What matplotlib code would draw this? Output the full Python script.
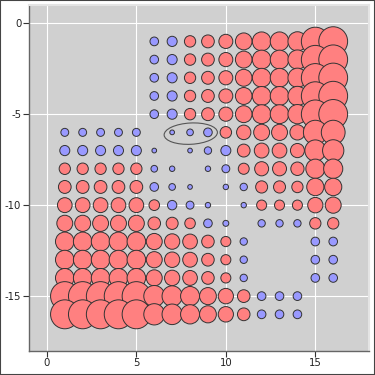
import numpy as np
import matplotlib
matplotlib.use("Agg")
import matplotlib.pyplot as plt
from matplotlib.patches import Circle, Ellipse, Rectangle

plt.rcParams["axes.unicode_minus"] = False

# Signed circle diameters (in grid-cell units); positive = red, negative = blue
# rows correspond to y = -1 ... -16, columns to x = 1 ... 16
top_row = [0, 0, 0, 0, 0, -0.48, -0.56, 0.63, 0.71, 0.78, 0.93, 1.04, 1.04, 1.06, 1.56, 1.61]
row6 = [-0.44, -0.44, -0.44, -0.44, -0.44, 0, -0.26, -0.37, -0.48, 0.64, 0.80, 0.89, 0.89, 0.84, 1.33, 1.33]
row7 = [-0.56, -0.56, -0.56, -0.56, -0.56, -0.26, 0, -0.26, -0.41, -0.56, 0.71, 0.82, 0.82, 0.78, 1.17, 1.19]
row8 = [0.63, 0.63, 0.63, 0.63, 0.63, -0.37, -0.30, 0, -0.30, -0.44, 0.61, 0.78, 0.78, 0.74, 1.06, 1.07]
row9 = [0.71, 0.71, 0.71, 0.71, 0.71, -0.48, -0.37, -0.26, 0, -0.30, -0.41, 0.67, 0.67, 0.63, 0.96, 0.96]
row10 = [0.82, 0.82, 0.82, 0.82, 0.82, 0.59, -0.52, -0.44, -0.30, 0, -0.30, 0.56, 0.56, 0.56, 0.85, 0.89]
row11 = [0.89, 0.89, 0.89, 0.89, 0.89, 0.70, 0.67, 0.59, -0.48, -0.33, 0, -0.41, -0.41, -0.41, 0.63, 0.63]
row12 = [1.04, 1.04, 1.04, 1.04, 1.04, 0.89, 0.85, 0.82, 0.70, 0.56, -0.41, 0, 0, 0, -0.48, -0.48]
row15 = [1.59, 1.59, 1.59, 1.59, 1.59, 1.17, 1.13, 1.06, 0.94, 0.85, 0.70, -0.48, -0.48, -0.48, 0, 0]

rows = [top_row, top_row, top_row, top_row, top_row,
        row6, row7, row8, row9, row10, row11,
        row12, row12, row12, row15, row15]

x_vals = list(range(1, 17))
y_vals = [-r for r in range(1, 17)]

x_ticks = [0, 5, 10, 15]
y_ticks = [0, -5, -10, -15]

# closed contour (ellipse) parameters
contour_center = (8.04, -6.07)
contour_width = 2.98
contour_height = 1.17
contour_angle = 3

pos_color = "#ff8080"
neg_color = "#9999ff"

fig = plt.figure(figsize=(3.75, 3.75), dpi=100)
ax = fig.add_axes([29/375, 1 - 350.7/375, (369-29)/375, (350.7-5)/375])
ax.set_facecolor("#d0d0d0")

for j, y in enumerate(y_vals):
    for i, x in enumerate(x_vals):
        v = rows[j][i]
        if v == 0:
            continue
        c = Circle((x, y), abs(v) / 2, facecolor=pos_color if v > 0 else neg_color,
                   edgecolor="#333333", linewidth=0.7, zorder=3)
        ax.add_patch(c)

ax.add_patch(Ellipse(contour_center, contour_width, contour_height, angle=contour_angle,
                     fill=False, edgecolor="#555555", linewidth=0.8, zorder=4))

ax.set_xlim(-1, 18)
ax.set_ylim(-18, 1)
ax.set_xticks(x_ticks)
ax.set_yticks(y_ticks)
ax.grid(True, color="white", linewidth=0.8, zorder=0)
ax.set_axisbelow(True)
ax.tick_params(labelsize=7.3, length=4, width=0.8, color="#333333", labelcolor="#222222", pad=1.5)
for s in ["left", "bottom"]:
    ax.spines[s].set_color("#666666")
    ax.spines[s].set_linewidth(1.0)
for s in ["top", "right"]:
    ax.spines[s].set_color("#e4e4e4")
    ax.spines[s].set_linewidth(1.5)

fig.patches.append(Rectangle((0, 0), 1, 1, transform=fig.transFigure, fill=False,
                             edgecolor="#444444", linewidth=1.5))

fig.savefig("out.png", dpi=100)
